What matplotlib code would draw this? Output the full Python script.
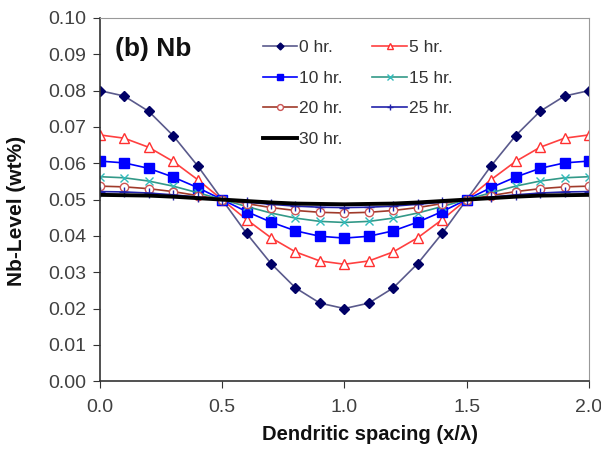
import matplotlib
matplotlib.use("Agg")
import matplotlib.pyplot as plt

plt.rcParams['font.family'] = ['Liberation Sans', 'DejaVu Sans']

# dendritic spacing x/lambda
x = [0.0, 0.1, 0.2, 0.3, 0.4, 0.5, 0.6, 0.7, 0.8, 0.9, 1.0,
     1.1, 1.2, 1.3, 1.4, 1.5, 1.6, 1.7, 1.8, 1.9, 2.0]

# Nb level (wt%)
nb_0 = [0.0800, 0.0785, 0.0743, 0.0676, 0.0593, 0.0500, 0.0407, 0.0324, 0.0257, 0.0215, 0.0200,
        0.0215, 0.0257, 0.0324, 0.0407, 0.0500, 0.0593, 0.0676, 0.0743, 0.0785, 0.0800]
nb_5 = [0.0678, 0.0669, 0.0644, 0.0605, 0.0555, 0.0500, 0.0445, 0.0395, 0.0356, 0.0331, 0.0322,
        0.0331, 0.0356, 0.0395, 0.0445, 0.0500, 0.0555, 0.0605, 0.0644, 0.0669, 0.0678]
nb_10 = [0.0606, 0.0601, 0.0586, 0.0562, 0.0533, 0.0500, 0.0467, 0.0438, 0.0414, 0.0399, 0.0394,
         0.0399, 0.0414, 0.0438, 0.0467, 0.0500, 0.0533, 0.0562, 0.0586, 0.0601, 0.0606]
nb_15 = [0.0563, 0.0560, 0.0551, 0.0537, 0.0519, 0.0500, 0.0481, 0.0463, 0.0449, 0.0440, 0.0437,
         0.0440, 0.0449, 0.0463, 0.0481, 0.0500, 0.0519, 0.0537, 0.0551, 0.0560, 0.0563]
nb_20 = [0.0537, 0.0535, 0.0530, 0.0522, 0.0511, 0.0500, 0.0489, 0.0478, 0.0470, 0.0465, 0.0463,
         0.0465, 0.0470, 0.0478, 0.0489, 0.0500, 0.0511, 0.0522, 0.0530, 0.0535, 0.0537]
nb_25 = [0.0522, 0.0521, 0.0518, 0.0513, 0.0507, 0.0500, 0.0493, 0.0487, 0.0482, 0.0479, 0.0478,
         0.0479, 0.0482, 0.0487, 0.0493, 0.0500, 0.0507, 0.0513, 0.0518, 0.0521, 0.0522]
nb_30 = [0.0513, 0.0512, 0.0511, 0.0508, 0.0504, 0.0500, 0.0496, 0.0492, 0.0489, 0.0488, 0.0487,
         0.0488, 0.0489, 0.0492, 0.0496, 0.0500, 0.0504, 0.0508, 0.0511, 0.0512, 0.0513]

fig = plt.figure(figsize=(6.01, 4.49), dpi=100)
ax = fig.add_axes([0.166, 0.151, 0.814, 0.809])

l0, = ax.plot(x, nb_0, color='#5a5a8c', lw=1.2, marker='D', ms=5, mfc='#000066', mec='#000066', label='0 hr.')
l5, = ax.plot(x, nb_5, color='#ff4040', lw=1.2, marker='^', ms=7, mfc='white', mec='#ff3030', label='5 hr.')
l10, = ax.plot(x, nb_10, color='#0000ff', lw=1.2, marker='s', ms=7, mfc='#0000ff', mec='#0000ff', label='10 hr.')
l15, = ax.plot(x, nb_15, color='#339988', lw=1.2, marker='x', ms=6, mec='#33bbbb', label='15 hr.')
l20, = ax.plot(x, nb_20, color='#a03a2a', lw=1.2, marker='o', ms=6, mfc='white', mec='#cc5555', label='20 hr.')
l25, = ax.plot(x, nb_25, color='#2222aa', lw=1.2, marker='+', ms=7, mec='#2222aa', label='25 hr.')
l30, = ax.plot(x, nb_30, color='black', lw=2.8, label='30 hr.')

ax.set_xlim(0, 2.0)
ax.set_ylim(0, 0.10)
ax.set_xticks([0.0, 0.5, 1.0, 1.5, 2.0])
ax.set_xticklabels(['0.0', '0.5', '1.0', '1.5', '2.0'])
ax.set_yticks([i / 100 for i in range(11)])
ax.set_yticklabels(['%.2f' % (i / 100) for i in range(11)])
ax.tick_params(direction='out', length=5, labelsize=14, labelcolor='#404040', color='#333333')
ax.tick_params(axis='x', pad=8)
ax.tick_params(axis='y', pad=5)

for s in ['top', 'right']:
    ax.spines[s].set_color('#999999')
for s in ['left', 'bottom']:
    ax.spines[s].set_color('#333333')
    ax.spines[s].set_linewidth(1.2)

ax.set_xlabel('Dendritic spacing (x/\u03bb)', fontsize=14.5, fontweight='bold', color='#111111')
ax.set_ylabel('Nb-Level (wt%)', fontsize=15, fontweight='bold', color='#111111')
ax.xaxis.set_label_coords(0.552, -0.121)
ax.yaxis.set_label_coords(-0.15, 0.468)

ax.text(0.032, 0.895, '(b) Nb', transform=ax.transAxes, fontsize=19, fontweight='bold', color='#111111')

# legend filled row by row like the original
handles = [l0, l10, l20, l30, l5, l15, l25]
ax.legend(handles=handles, ncol=2, loc='upper left', bbox_to_anchor=(0.333, 0.94), frameon=False,
          fontsize=12.5, handlelength=2.0, handletextpad=0.1, columnspacing=1.7,
          labelspacing=0.9, borderaxespad=0, borderpad=0, markerscale=0.7,
          labelcolor='#333333')

fig.savefig('out.png', dpi=100)
